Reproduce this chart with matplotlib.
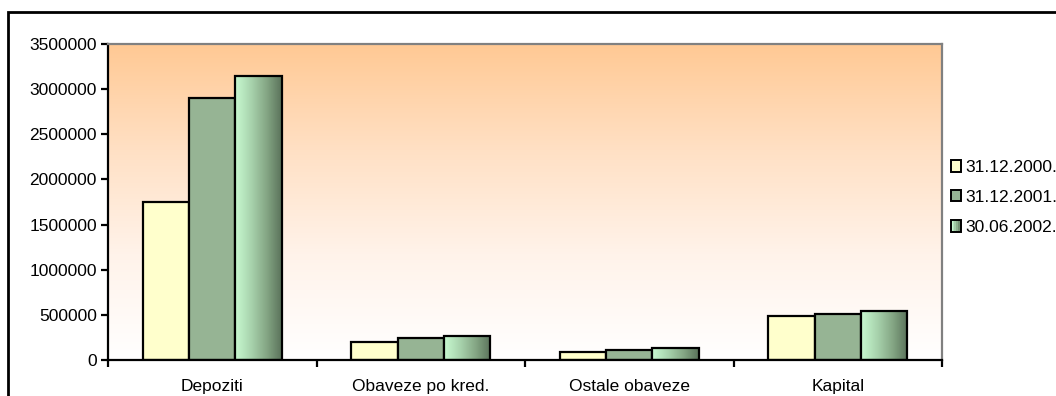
import numpy as np
import matplotlib
matplotlib.use("Agg")
import matplotlib.pyplot as plt
from matplotlib.colors import LinearSegmentedColormap
from matplotlib.patches import Rectangle, Patch
from matplotlib.legend_handler import HandlerBase

categories = ["Depoziti", "Obaveze po kred.", "Ostale obaveze", "Kapital"]
series = ["31.12.2000.", "31.12.2001.", "30.06.2002."]
v2000 = [1750000, 195000, 84000, 487000]
v2001 = [2900000, 240000, 106000, 505000]
v2002 = [3150000, 265000, 128000, 545000]
yticks = [0, 500000, 1000000, 1500000, 2000000, 2500000, 3000000, 3500000]

plt.rcParams["font.family"] = ["Liberation Sans", "DejaVu Sans"]
plt.rcParams["font.size"] = 12.5

grad_cmap = LinearSegmentedColormap.from_list("g", ["#c8f9d0", "#a9d4ae", "#86a886", "#5b735b"])
bg_cmap = LinearSegmentedColormap.from_list("bg", ["#ffffff", "#fff3ea", "#ffe0c4", "#ffc994"])


class GradientHandler(HandlerBase):
    def create_artists(self, legend, orig, xd, yd, w, h, fontsize, trans):
        arts = []
        n = 6
        for i in range(n):
            r = Rectangle((xd + w * i / n, yd), w / n, h, facecolor=grad_cmap(i / (n - 1)),
                          edgecolor="none", transform=trans)
            arts.append(r)
        arts.append(Rectangle((xd, yd), w, h, facecolor="none", edgecolor="black", lw=1.4, transform=trans))
        return arts


fig = plt.figure(figsize=(10.56, 3.96), dpi=100)
ax = fig.add_axes([108 / 1056, 36 / 396, 834 / 1056, 316 / 396])

# background gradient
grad = np.linspace(0, 1, 256).reshape(-1, 1)
ax.imshow(grad, aspect="auto", cmap=bg_cmap, origin="lower", extent=[0, 1, 0, 1],
          transform=ax.transAxes, zorder=0)

x = np.arange(len(categories))
w = 1 / 4.5
ax.bar(x - w, v2000, w, color="#ffffcc", edgecolor="black", lw=1.6, zorder=2)
ax.bar(x, v2001, w, color="#96b494", edgecolor="black", lw=1.6, zorder=2)
bars = ax.bar(x + w, v2002, w, color="none", edgecolor="black", lw=1.6, zorder=3)
hgrad = np.linspace(0, 1, 64).reshape(1, -1)
for b in bars:
    ax.imshow(hgrad, aspect="auto", cmap=grad_cmap, origin="lower",
              extent=[b.get_x(), b.get_x() + b.get_width(), 0, b.get_height()], zorder=2)

ax.set_xlim(-0.5, len(categories) - 0.5)
ax.set_ylim(0, 3500000)
ax.set_yticks(yticks)
ax.set_yticklabels([str(t) for t in yticks])
ax.set_xticks(x)
ax.set_xticklabels(categories)
ax.set_xticks(np.arange(len(categories) + 1) - 0.5, minor=True)
ax.tick_params(axis="x", which="major", length=0, pad=14)
ax.tick_params(axis="x", which="minor", length=5, width=1.6, direction="out")
ax.tick_params(axis="y", length=5, width=1.6, direction="out", pad=3)

for s in ["left", "bottom"]:
    ax.spines[s].set_linewidth(1.6)
    ax.spines[s].set_color("black")
for s in ["top", "right"]:
    ax.spines[s].set_linewidth(1.6)
    ax.spines[s].set_color("#808080")

handles = [Patch(facecolor="#ffffcc", edgecolor="black", lw=1.4),
           Patch(facecolor="#96b494", edgecolor="black", lw=1.4),
           Patch(facecolor="#86a886", edgecolor="black", lw=1.4)]
fig.legend(handles, series, loc="upper left", bbox_to_anchor=(951 / 1056, 1 - 160 / 396),
           frameon=False, fontsize=12.5, handlelength=0.6, handleheight=0.65, handletextpad=0.2,
           labelspacing=0.85, borderaxespad=0, borderpad=0,
           handler_map={handles[2]: GradientHandler()})

# outer chart border
fig.patches.append(Rectangle((7.5 / 1056, -0.1), 1.2, 1 - 11.5 / 396 + 0.1, transform=fig.transFigure,
                             facecolor="none", edgecolor="black", lw=2))

fig.savefig("out.png", dpi=100)
